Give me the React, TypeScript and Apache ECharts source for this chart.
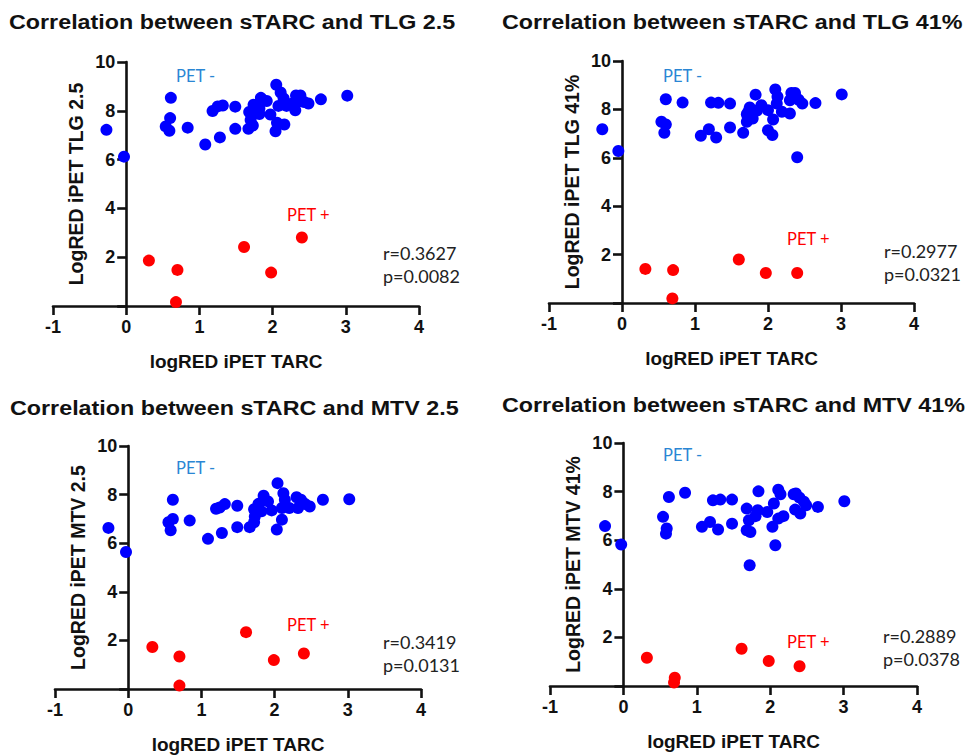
import React, { useEffect, useRef } from "react";
import * as echarts from "echarts";

// ---------- data (logRED iPET TARC, value) ----------
const xTicks = [-1, 0, 1, 2, 3, 4];
const yTicks = [0, 2, 4, 6, 8, 10];

const panelTitles = [
  "Correlation between sTARC and TLG 2.5",
  "Correlation between sTARC and TLG 41%",
  "Correlation between sTARC and MTV 2.5",
  "Correlation between sTARC and MTV 41%",
];
const yAxisNames = [
  "LogRED iPET TLG 2.5",
  "LogRED iPET TLG 41%",
  "LogRED iPET MTV 2.5",
  "LogRED iPET MTV 41%",
];
const xAxisName = "logRED iPET TARC";
const rTexts = ["r=0.3627", "r=0.2977", "r=0.3419", "r=0.2889"];
const pTexts = ["p=0.0082", "p=0.0321", "p=0.0131", "p=0.0378"];

const tlg25Neg = [
  [-0.27, 7.22], [-0.03, 6.12], [0.61, 8.53], [0.6, 7.7], [0.54, 7.36], [0.59, 7.18],
  [0.84, 7.31], [1.08, 6.62], [1.28, 6.91], [1.18, 7.99], [1.25, 8.18], [1.32, 8.22],
  [1.49, 8.17], [1.49, 7.26], [1.67, 7.26], [1.73, 7.4], [1.7, 7.62], [1.68, 7.95],
  [1.74, 8.25], [1.84, 8.53], [1.92, 8.4], [1.82, 8.09], [1.82, 7.87], [1.97, 7.85],
  [2.05, 9.07], [2.11, 8.75], [2.15, 8.51], [2.08, 8.2], [2.19, 8.2], [2.06, 7.51],
  [2.16, 7.44], [2.04, 7.16], [2.32, 8.63], [2.38, 8.63], [2.31, 8.02], [2.35, 8.38],
  [2.43, 8.36], [2.49, 8.3], [2.66, 8.47], [3.02, 8.62], [2.26, 8.29],
];
const tlg25Pos = [[0.31, 1.86], [0.7, 1.48], [0.68, 0.16], [1.61, 2.42], [1.98, 1.37], [2.4, 2.81]];

const tlg41Neg = [
  [-0.27, 7.18], [-0.05, 6.28], [0.6, 8.42], [0.54, 7.49], [0.6, 7.38], [0.58, 7.03],
  [0.83, 8.28], [1.08, 6.91], [1.19, 7.18], [1.29, 6.84], [1.22, 8.28], [1.32, 8.27],
  [1.48, 8.24], [1.48, 7.25], [1.66, 7.03], [1.71, 7.49], [1.73, 7.9], [1.75, 8.08],
  [1.83, 8.61], [1.91, 8.17], [1.79, 7.62], [1.71, 7.8], [2.0, 7.14], [2.06, 6.94],
  [2.07, 7.58], [2.1, 8.82], [2.13, 8.52], [2.12, 8.24], [2.19, 7.9], [2.3, 7.83],
  [2.32, 8.68], [2.37, 8.68], [2.3, 8.38], [2.4, 6.02], [2.42, 8.4], [2.47, 8.24],
  [2.65, 8.26], [3.01, 8.62], [2.0, 7.97], [1.85, 7.95],
];
const tlg41Pos = [[0.32, 1.41], [0.7, 1.36], [0.69, 0.19], [1.6, 1.8], [1.97, 1.24], [2.4, 1.24]];

const mtv25Neg = [
  [-0.27, 6.63], [-0.03, 5.64], [0.61, 7.79], [0.55, 6.86], [0.61, 7.0], [0.58, 6.53],
  [0.84, 6.93], [1.09, 6.18], [1.28, 6.42], [1.2, 7.42], [1.25, 7.47], [1.32, 7.61],
  [1.49, 7.54], [1.49, 6.66], [1.66, 6.66], [1.72, 6.86], [1.73, 7.1], [1.72, 7.4],
  [1.78, 7.62], [1.85, 7.95], [1.91, 7.72], [1.82, 7.31], [1.96, 7.35], [2.04, 8.47],
  [2.12, 8.06], [2.14, 7.79], [2.1, 7.45], [2.2, 7.45], [2.1, 6.97], [2.03, 6.56],
  [2.3, 7.89], [2.36, 7.79], [2.32, 7.45], [2.38, 7.69], [2.42, 7.61], [2.48, 7.51],
  [2.66, 7.79], [3.02, 7.81],
];
const mtv25Pos = [[0.33, 1.73], [0.7, 1.34], [0.7, 0.14], [1.61, 2.34], [1.99, 1.19], [2.4, 1.46]];

const mtv41Neg = [
  [-0.25, 6.58], [-0.03, 5.82], [0.62, 7.78], [0.84, 7.95], [0.54, 6.96], [0.59, 6.48],
  [0.58, 6.27], [1.07, 6.55], [1.18, 6.75], [1.29, 6.44], [1.22, 7.64], [1.32, 7.67],
  [1.48, 7.67], [1.48, 6.68], [1.68, 6.41], [1.73, 6.34], [1.72, 4.97], [1.68, 7.3],
  [1.71, 6.82], [1.8, 6.99], [1.84, 8.01], [1.83, 7.23], [1.96, 7.16], [2.05, 7.51],
  [2.03, 6.55], [2.07, 5.79], [2.11, 8.08], [2.14, 7.89], [2.11, 6.89], [2.18, 6.99],
  [2.32, 7.89], [2.35, 7.92], [2.4, 7.75], [2.46, 7.58], [2.49, 7.44], [2.34, 7.26],
  [2.41, 7.1], [2.65, 7.37], [3.01, 7.6],
];
const mtv41Pos = [[0.32, 1.16], [0.7, 0.34], [0.69, 0.14], [1.61, 1.53], [1.98, 1.03], [2.4, 0.81]];

const negSets = [tlg25Neg, tlg41Neg, mtv25Neg, mtv41Neg];
const posSets = [tlg25Pos, tlg41Pos, mtv25Pos, mtv41Pos];

// ---------- layout ----------
const grids = [
  { left: 53, top: 62, width: 366, height: 244 },
  { left: 549, top: 61, width: 365, height: 242 },
  { left: 55, top: 446, width: 366, height: 244 },
  { left: 550, top: 443, width: 367, height: 243 },
];
const titlePos = [
  { x: 9, y: 22 },
  { x: 502, y: 22 },
  { x: 10, y: 408 },
  { x: 502, y: 405 },
];
const petNegPos = [
  { x: 176, y: 76 },
  { x: 663, y: 76 },
  { x: 176, y: 468 },
  { x: 663, y: 455 },
];
const petPosPos = [
  { x: 287, y: 215 },
  { x: 787, y: 239 },
  { x: 287, y: 625 },
  { x: 787, y: 642 },
];
const statPos = [
  { x: 383, y: 253 },
  { x: 884, y: 251 },
  { x: 383, y: 642 },
  { x: 883, y: 636 },
];

const BOLD = "Liberation Sans, Arial, Helvetica, sans-serif";
const REG = "Lato, Noto Sans, sans-serif";
const INK = "#111";
const BLUE = "#0000ff";
const RED = "#ff0000";
const LABEL_BLUE = "#2a86d4";

export default function App() {
  const ref = useRef<HTMLDivElement>(null);

  useEffect(() => {
    if (!ref.current) return;
    const chart = echarts.init(ref.current, undefined, { renderer: "svg" });

    const lineStyle = { color: INK, width: 2.6 };

    const xAxis = grids.map((_, i) => ({
      type: "value",
      gridIndex: i,
      min: xTicks[0],
      max: xTicks[xTicks.length - 1],
      interval: 1,
      name: xAxisName,
      nameLocation: "middle",
      nameGap: 46,
      nameTextStyle: { fontFamily: BOLD, fontWeight: "bold", fontSize: 19, color: INK },
      axisLine: { show: true, onZero: false, lineStyle },
      axisTick: { show: true, length: 9, lineStyle },
      splitLine: { show: false },
      axisLabel: {
        margin: 12,
        fontFamily: BOLD,
        fontWeight: "bold",
        fontSize: 18,
        color: INK,
      },
    }));

    // the y axis stands at x = 0, i.e. one unit of the five-unit x range in from the left edge
    const yAxis = grids.map((g, i) => ({
      type: "value",
      gridIndex: i,
      min: yTicks[0],
      max: yTicks[yTicks.length - 1],
      interval: 2,
      position: "left",
      offset: -(g.width * (0 - xTicks[0])) / (xTicks[xTicks.length - 1] - xTicks[0]),
      name: yAxisNames[i],
      nameLocation: "middle",
      nameGap: 40,
      nameMoveOverlap: false,
      nameTextStyle: { fontFamily: BOLD, fontWeight: "bold", fontSize: 19.5, color: INK },
      axisLine: { show: true, onZero: false, lineStyle },
      axisTick: { show: true, length: 9, lineStyle },
      splitLine: { show: false },
      axisLabel: {
        margin: 11,
        fontFamily: BOLD,
        fontWeight: "bold",
        fontSize: 18,
        color: INK,
        formatter: (v: number) => (v === 0 ? "" : String(v)),
      },
    }));

    const series: any[] = [];
    grids.forEach((_, i) => {
      series.push({
        type: "scatter",
        name: "PET -",
        xAxisIndex: i,
        yAxisIndex: i,
        data: negSets[i],
        symbolSize: 12,
        itemStyle: { color: BLUE, opacity: 1 },
        clip: false,
      });
      series.push({
        type: "scatter",
        name: "PET +",
        xAxisIndex: i,
        yAxisIndex: i,
        data: posSets[i],
        symbolSize: 12,
        itemStyle: { color: RED, opacity: 1 },
        clip: false,
      });
    });

    const graphic: any[] = [];
    grids.forEach((_, i) => {
      graphic.push({
        type: "text",
        x: titlePos[i].x,
        y: titlePos[i].y,
        scaleX: 1.11,
        style: {
          text: panelTitles[i],
          fontFamily: BOLD,
          fontWeight: "bold",
          fontSize: 21,
          fill: INK,
          verticalAlign: "middle",
        },
      });
      graphic.push({
        type: "text",
        x: petNegPos[i].x,
        y: petNegPos[i].y,
        style: {
          text: "PET -",
          fontFamily: REG,
          fontSize: 16.5,
          fill: LABEL_BLUE,
          verticalAlign: "middle",
        },
      });
      graphic.push({
        type: "text",
        x: petPosPos[i].x,
        y: petPosPos[i].y,
        style: {
          text: "PET +",
          fontFamily: REG,
          fontSize: 16.5,
          fill: RED,
          verticalAlign: "middle",
        },
      });
      graphic.push({
        type: "text",
        x: statPos[i].x,
        y: statPos[i].y,
        style: {
          text: rTexts[i],
          fontFamily: REG,
          fontSize: 18,
          fill: "#222",
          verticalAlign: "middle",
        },
      });
      graphic.push({
        type: "text",
        x: statPos[i].x,
        y: statPos[i].y + 23,
        style: {
          text: pTexts[i],
          fontFamily: REG,
          fontSize: 18,
          fill: "#222",
          verticalAlign: "middle",
        },
      });
    });

    chart.setOption({
      animation: false,
      backgroundColor: "#ffffff",
      grid: grids.map((g) => ({ ...g, containLabel: false })),
      xAxis,
      yAxis,
      series,
      graphic,
    });

    return () => chart.dispose();
  }, []);

  return (
    <div
      ref={ref}
      style={{ position: "fixed", left: 0, top: 0, width: 972, height: 755 }}
    />
  );
}
